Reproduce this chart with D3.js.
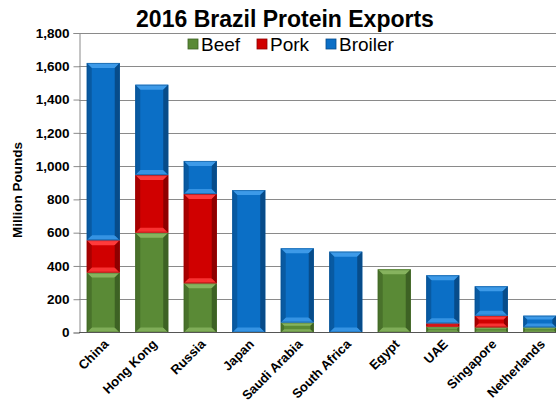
<!DOCTYPE html>
<html lang="en">
<head>
<meta charset="UTF-8">
<script src="https://cdn.jsdelivr.net/npm/d3@7"></script>
<style>
  html, body { margin: 0; padding: 0; background: #fff; }
  body { font-family: "Liberation Sans", Arial, sans-serif; }
</style>
</head>
<body>
<div id="chart"></div>
<script>
// data (million pounds)
const countries = ["China", "Hong Kong", "Russia", "Japan", "Saudi Arabia", "South Africa", "Egypt", "UAE", "Singapore", "Netherlands"];
const beef    = [360, 600, 296, 0, 60, 0, 380, 35, 31, 31];
const pork    = [195, 346, 536, 0, 0, 0, 0, 20, 70, 0];
const broiler = [1065, 543, 199, 856, 446, 486, 0, 289, 177, 70];
const yTicks  = [0, 200, 400, 600, 800, 1000, 1200, 1400, 1600, 1800];

const series = [
  {name: "Beef", values: beef, color: "#5a8a36", light: "#86b35e", dark: "#3d6224"},
  {name: "Pork", values: pork, color: "#d00000", light: "#ff3b3b", dark: "#8e0000"},
  {name: "Broiler", values: broiler, color: "#0b6fc6", light: "#3d9ae8", dark: "#074c8a"}
];

const width = 556, height = 410;
const svg = d3.select("#chart").append("svg").attr("width", width).attr("height", height);

const x = d3.scaleBand().domain(countries).range([79, 564]).paddingInner(0.32).paddingOuter(0.16);
const y = d3.scaleLinear().domain([0, 1800]).range([332.5, 33]);

// grid
svg.append("g").selectAll("line").data(yTicks.slice(1)).join("line")
  .attr("x1", 79).attr("x2", width)
  .attr("y1", d => Math.round(y(d)) + 0.5).attr("y2", d => Math.round(y(d)) + 0.5)
  .attr("stroke", "#8a8a8a").attr("stroke-width", 1);

// y axis
const yAxis = svg.append("g").attr("transform", "translate(79.5,0)")
  .call(d3.axisLeft(y).tickValues(yTicks).tickSize(6).tickFormat(d3.format(",")));
yAxis.select(".domain").attr("stroke", "#8a8a8a");
yAxis.selectAll(".tick line").attr("stroke", "#8a8a8a");
yAxis.selectAll(".tick text").attr("x", -10)
  .style("font-family", "Liberation Sans, Arial, sans-serif")
  .style("font-size", "13.5px").style("font-weight", "bold").attr("fill", "#000");

// stacked bars with bevel
const stackData = countries.map((c, i) => {
  let base = 0;
  return series.map(s => {
    const v = s.values[i];
    const seg = {country: c, s: s, y0: base, y1: base + v};
    base += v;
    return seg;
  }).filter(d => d.y1 > d.y0);
});

const bars = svg.append("g");
stackData.flat().forEach(d => {
  const x0 = x(d.country), w = x.bandwidth();
  const top = y(d.y1), bot = y(d.y0), h = bot - top;
  const b = Math.min(5, h / 3, w / 4);
  const g = bars.append("g");
  g.append("rect").attr("x", x0).attr("y", top).attr("width", w).attr("height", h).attr("fill", d.s.color);
  const x1 = x0 + w;
  // top edge (light)
  g.append("polygon").attr("points", [[x0, top], [x1, top], [x1 - b, top + b], [x0 + b, top + b]].join(" "))
    .attr("fill", d.s.light);
  // bottom edge
  g.append("polygon").attr("points", [[x0, bot], [x1, bot], [x1 - b, bot - b], [x0 + b, bot - b]].join(" "))
    .attr("fill", d.s.light).attr("opacity", 0.85);
  // left edge
  g.append("polygon").attr("points", [[x0, top], [x0 + b, top + b], [x0 + b, bot - b], [x0, bot]].join(" "))
    .attr("fill", d.s.dark).attr("opacity", 0.6);
  // right edge
  g.append("polygon").attr("points", [[x1, top], [x1 - b, top + b], [x1 - b, bot - b], [x1, bot]].join(" "))
    .attr("fill", d.s.dark);
  g.append("rect").attr("x", x0 + 0.5).attr("y", top + 0.5).attr("width", w - 1).attr("height", Math.max(0, h - 1))
    .attr("fill", "none").attr("stroke", d.s.dark).attr("stroke-opacity", 0.5);
});

// x axis line
svg.append("line").attr("x1", 79).attr("x2", width).attr("y1", 332.5).attr("y2", 332.5)
  .attr("stroke", "#555").attr("stroke-width", 1);

// x labels
svg.append("g").selectAll("text").data(countries).join("text")
  .attr("transform", d => `translate(${x(d) + x.bandwidth() / 2 + 6},${345}) rotate(-45)`)
  .attr("text-anchor", "end")
  .attr("font-size", 13).attr("font-weight", "bold").attr("fill", "#000")
  .text(d => d);

// y title
svg.append("text").attr("transform", "translate(22,190) rotate(-90)")
  .attr("text-anchor", "middle").attr("font-size", 13.5).attr("font-weight", "bold")
  .text("Million Pounds");

// title
svg.append("text").attr("x", 285).attr("y", 27).attr("text-anchor", "middle")
  .attr("font-size", 23).attr("font-weight", "bold").text("2016 Brazil Protein Exports");

// legend
const legendX = [188, 257, 326];
const leg = svg.append("g").selectAll("g").data(series).join("g")
  .attr("transform", (d, i) => `translate(${legendX[i]},44)`);
leg.append("rect").attr("x", 0).attr("y", -5).attr("width", 10).attr("height", 10)
  .attr("fill", d => d.color).attr("stroke", d => d.dark).attr("stroke-width", 0.8);
leg.append("text").attr("x", 13).attr("y", 7).attr("font-size", 19).text(d => d.name);
</script>
</body>
</html>
